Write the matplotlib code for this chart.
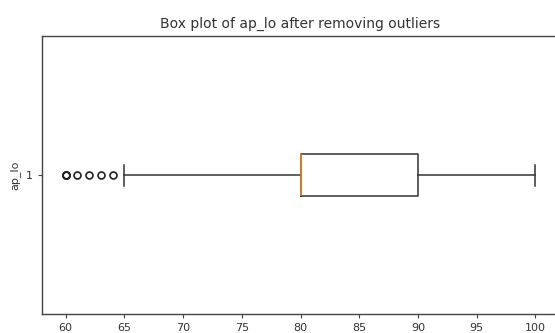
from matplotlib import pyplot as plt

# summary stats of ap_lo
label = '1'
q1 = 80
median = 80
q3 = 90
whisker_low = 65
whisker_high = 100
outliers = [60, 60, 60, 61, 62, 63, 64]

stats = [{'label': label, 'q1': q1, 'med': median, 'q3': q3,
          'whislo': whisker_low, 'whishi': whisker_high, 'fliers': outliers}]

s = 0.8  # scale of the screenshot vs default sizes
plt.rcParams['font.size'] = 10 * s
plt.rcParams['text.color'] = '#333333'
plt.rcParams['xtick.labelcolor'] = '#333333'
plt.rcParams['ytick.labelcolor'] = '#333333'
plt.rcParams['axes.labelcolor'] = '#333333'
plt.rcParams['axes.edgecolor'] = '#444444'
plt.rcParams['axes.linewidth'] = 1.0
plt.rcParams['xtick.major.size'] = 3.5 * s
plt.rcParams['ytick.major.size'] = 3.5 * s
plt.rcParams['xtick.color'] = '#444444'
plt.rcParams['ytick.color'] = '#444444'

fig = plt.figure(figsize=(5.55, 3.33), dpi=100)
ax = fig.add_axes([0.0757, 0.056, 0.9315, 0.836])

lw = 1.1
ax.bxp(stats, vert=False, widths=0.15,
       boxprops=dict(linewidth=lw, color='#333333'),
       whiskerprops=dict(linewidth=lw, color='#333333'),
       capprops=dict(linewidth=lw, color='#333333'),
       medianprops=dict(linewidth=lw, color='#ff7f0e'),
       flierprops=dict(marker='o', markersize=5, markeredgewidth=1.2,
                       markerfacecolor='none', markeredgecolor='#222222'))

ax.set_xlim(58, 102)
ax.set_ylim(0.5, 1.5)
ax.set_xticks([60, 65, 70, 75, 80, 85, 90, 95, 100])
ax.set_ylabel('ap_lo')
ax.set_title('Box plot of ap_lo after removing outliers', fontsize=10)

plt.savefig('out.png', dpi=100)
